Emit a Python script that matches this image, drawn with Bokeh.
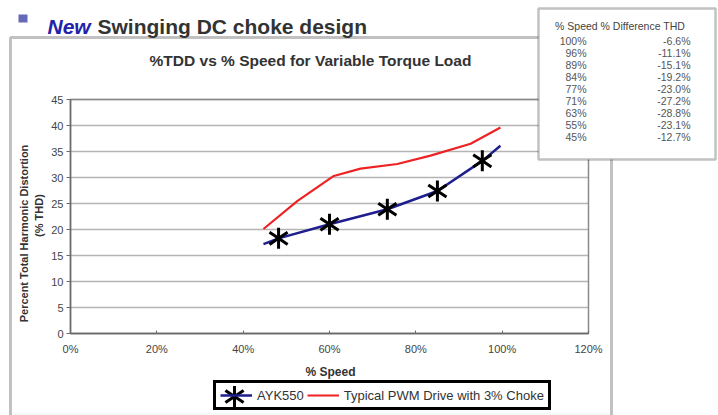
import math
from bokeh.plotting import figure
from bokeh.models import (Range1d, FixedTicker, Label, PolyAnnotation, Legend, LegendItem)
from bokeh.embed import file_html
from bokeh.resources import INLINE

# ---------------- data ----------------
ayk_speed = [44.7, 48.2, 60.0, 73.4, 85.0, 95.4, 99.6]
ayk_thd = [17.2, 18.3, 21.0, 23.9, 27.4, 33.2, 36.1]
marker_speed = [48.2, 60.0, 73.4, 85.0, 95.4]
marker_thd = [18.3, 21.0, 23.9, 27.4, 33.2]
pwm_speed = [44.7, 52.6, 61.0, 67.2, 75.7, 83.4, 92.7, 99.6]
pwm_thd = [20.1, 25.5, 30.3, 31.7, 32.6, 34.2, 36.5, 39.6]

x_ticks = [0, 20, 40, 60, 80, 100, 120]
x_tick_labels = ["0%", "20%", "40%", "60%", "80%", "100%", "120%"]
y_ticks = [0, 5, 10, 15, 20, 25, 30, 35, 40, 45]

table_speed = ["100%", "96%", "89%", "84%", "77%", "71%", "63%", "55%", "45%"]
table_diff = ["-6.6%", "-11.1%", "-15.1%", "-19.2%", "-23.0%", "-27.2%", "-28.8%", "-23.1%", "-12.7%"]

FONT = "Liberation Sans"
W, H = 718, 415
# chart area on the canvas: x 0..120 -> px 70..588, y 0..45 -> px 333..99
def X(px):
    return (px - 70) * 120.0 / 518.0

def Y(py):
    return (333 - py) * 45.0 / 234.0

p = figure(width=W, height=H, output_backend="svg", toolbar_location=None,
           x_range=Range1d(X(0), X(W)), y_range=Range1d(Y(H), Y(0)),
           min_border=0, min_border_left=0, min_border_right=0,
           min_border_top=0, min_border_bottom=0)
p.background_fill_color = "white"
p.border_fill_color = "white"
p.outline_line_color = None
p.xgrid.visible = False
p.ygrid.visible = False

# axes placed at the chart origin, limited to the chart extent
p.xaxis.fixed_location = 0
p.xaxis.bounds = (x_ticks[0], x_ticks[-1])
p.yaxis.fixed_location = 0
p.yaxis.bounds = (y_ticks[0], y_ticks[-1])
p.xaxis.ticker = FixedTicker(ticks=x_ticks)
p.xaxis.major_label_overrides = {t: l for t, l in zip(x_ticks, x_tick_labels)}
p.yaxis.ticker = FixedTicker(ticks=y_ticks)
for ax in (p.xaxis, p.yaxis):
    ax.axis_line_color = "#6a6a6a"
    ax.axis_line_width = 1.5
    ax.major_tick_line_color = "#6a6a6a"
    ax.minor_tick_line_color = None
    ax.major_label_text_font = FONT
    ax.major_label_text_font_size = "11px"
    ax.major_label_text_color = "#444444"
p.xaxis.major_tick_in = 3
p.xaxis.major_tick_out = 0
p.xaxis.major_label_standoff = 9
p.yaxis.major_tick_in = 0
p.yaxis.major_tick_out = 4
p.yaxis.major_label_standoff = 3

# outer slide frame (behind everything)
frame = PolyAnnotation(xs=[X(10), X(611), X(611), X(10)], ys=[Y(37), Y(37), Y(450), Y(450)],
                       line_color="#333333", line_width=3, fill_alpha=0, level="underlay")
p.add_layout(frame)
bottom_rule = PolyAnnotation(xs=[X(12), X(609)], ys=[Y(413.5), Y(413.5)],
                             line_color="#cccccc", line_width=1, fill_alpha=0, level="underlay")
p.add_layout(bottom_rule)

# horizontal gridlines and plot-area border, from the tick values
p.segment(x0=[x_ticks[0]] * len(y_ticks), x1=[x_ticks[-1]] * len(y_ticks),
          y0=y_ticks, y1=y_ticks, line_color="#b4b4b4", line_width=1.5, level="underlay")
p.quad(left=[x_ticks[0]], right=[x_ticks[-1]], bottom=[y_ticks[0]], top=[y_ticks[-1]],
       fill_alpha=0, line_color="#8a8a8a", line_width=1.5, level="underlay")

# ---------------- series ----------------
blue = p.line(ayk_speed, ayk_thd, line_color="#1e1e8e", line_width=2.5)
red = p.line(pwm_speed, pwm_thd, line_color="#ee2222", line_width=2.2)
st1 = p.scatter(marker_speed, marker_thd, marker="y", size=21, line_color="black",
                line_width=3, angle=0)
st2 = p.scatter(marker_speed, marker_thd, marker="y", size=21, line_color="black",
                line_width=3, angle=math.pi)

# big star key for the legend (legend background is transparent so it shows)
for ang in (0, math.pi):
    p.scatter([X(234)], [Y(396)], marker="y", size=21, line_color="black",
              line_width=3, angle=ang)

legend = Legend(items=[LegendItem(label="AYK550", renderers=[blue]),
                       LegendItem(label="Typical PWM Drive with 3% Choke", renderers=[red])],
                orientation="horizontal", location=(213, 5),
                border_line_color="black", border_line_width=3, border_line_alpha=1,
                background_fill_alpha=0,
                label_text_font=FONT, label_text_font_size="13px", label_text_color="#333333",
                glyph_width=32, glyph_height=16, padding=4, spacing=3, label_standoff=5,
                margin=0)
p.add_layout(legend, "center")

# data table box (on top of the chart)
tbox = PolyAnnotation(xs=[X(538), X(715), X(715), X(538)], ys=[Y(8), Y(8), Y(159), Y(159)],
                      line_color="#333333", line_width=2.5, fill_color="white", fill_alpha=1,
                      level="overlay")
p.add_layout(tbox)

# title bullet
bullet = PolyAnnotation(xs=[X(18), X(27), X(27), X(18)], ys=[Y(14), Y(14), Y(22), Y(22)],
                        line_alpha=0, fill_color="#6868b8", fill_alpha=1, level="overlay")
p.add_layout(bullet)

def lab(x, y, text, size, color="#333333", align="left", baseline="middle",
        style="normal", angle=0, font=FONT):
    p.add_layout(Label(x=x, y=y, text=text, text_font=font, text_font_size=size,
                       text_color=color, text_align=align, text_baseline=baseline,
                       text_font_style=style, angle=angle, level="overlay"))

lab(X(47), Y(25.5), "New", "21px", color="#2222aa", baseline="alphabetic", style="bold italic")
lab(X(97), Y(25.5), "Swinging DC choke design", "21px", color="#333333",
    baseline="alphabetic", style="bold")
lab(X(310), Y(60), "%TDD vs % Speed for Variable Torque Load", "15.5px", color="#333333",
    align="center", style="bold")
lab(X(23), Y(233), "Percent Total Harmonic Distortion", "11px", align="center",
    style="bold", angle=math.pi / 2)
lab(X(38), Y(215), "(% THD)", "11px", align="center", style="bold", angle=math.pi / 2)
lab(X(330), Y(371), "% Speed", "12px", align="center", style="bold")

lab(X(621), Y(25), "% Speed  % Difference THD", "10.5px", color="#444444", align="center")
for i, (s, d) in enumerate(zip(table_speed, table_diff)):
    yy = 40 + 12 * i
    lab(X(586), Y(yy), s, "10.5px", color="#555555", align="right")
    lab(X(690), Y(yy), d, "10.5px", color="#555555", align="right")

open("out.html", "w").write(file_html(p, INLINE))
